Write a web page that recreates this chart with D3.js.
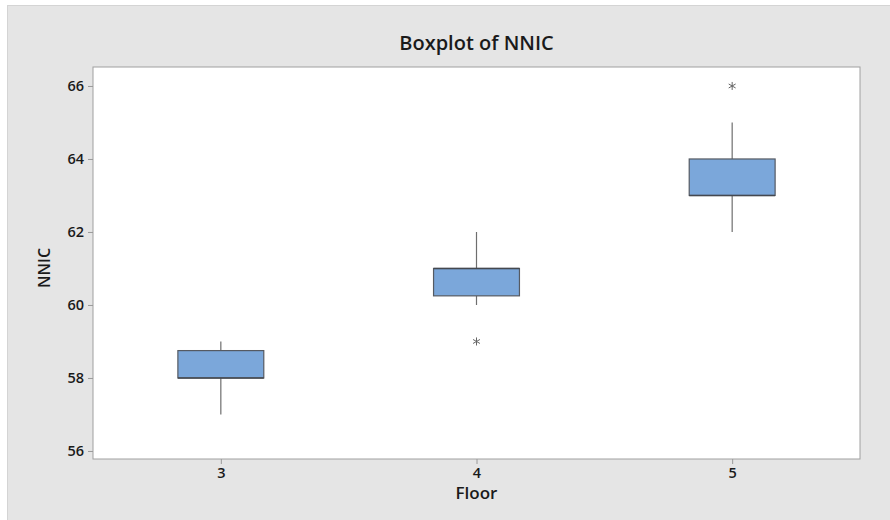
<!DOCTYPE html>
<html><head><meta charset="utf-8">
<script src="https://cdn.jsdelivr.net/npm/d3@7"></script>
<style>body{margin:0;background:#fff}svg{display:block}text{font-family:"Open Sans",sans-serif;fill:#1a1a1a}</style>
</head><body><svg id="c" width="890" height="520"></svg>
<script>
const floors = [3, 4, 5];
const q1 = [58, 60.25, 63];
const median = [58, 61, 63];
const q3 = [58.75, 61, 64];
const whiskerLow = [57, 60, 62];
const whiskerHigh = [59, 62, 65];
const outliers = [[], [59], [66]];
const yTicks = [56, 58, 60, 62, 64, 66];

const svg = d3.select("#c");
svg.append("rect").attr("x",7.5).attr("y",5.5).attr("width",890).attr("height",520)
  .attr("fill","#e5e5e5").attr("stroke","#d4d4d4");

const L=93,R=860,T=67,B=459;
const x = d3.scaleLinear().domain([2.5,5.5]).range([L,R]);
const y = d3.scaleLinear().domain([55.78,66.52]).range([B,T]);

svg.append("rect").attr("x",L).attr("y",T).attr("width",R-L).attr("height",B-T)
  .attr("fill","#fff").attr("stroke","#a0a0a0");

const yAxis = svg.append("g").attr("transform",`translate(${L},0)`)
  .call(d3.axisLeft(y).tickValues(yTicks).tickFormat(d3.format("d")).tickSize(5).tickPadding(4));
const xAxis = svg.append("g").attr("transform",`translate(0,${B})`)
  .call(d3.axisBottom(x).tickValues(floors).tickFormat(d3.format("d")).tickSize(5).tickPadding(4));
[yAxis,xAxis].forEach(a=>{
  a.select(".domain").remove();
  a.selectAll("line").attr("stroke","#9a9a9a");
  a.selectAll("text").style("font-family","'Open Sans',sans-serif").style("font-size","14.5px").style("font-weight","600").attr("fill","#1a1a1a");
});

svg.append("text").attr("x",(L+R)/2).attr("y",50).attr("text-anchor","middle")
  .style("font-size","20px").style("font-weight","600").text("Boxplot of NNIC");
svg.append("text").attr("x",(L+R)/2).attr("y",499).attr("text-anchor","middle")
  .style("font-size","17px").style("font-weight","600").text("Floor");
svg.append("text").attr("transform",`translate(50,${(T+B)/2+5}) rotate(-90)`).attr("text-anchor","middle")
  .style("font-size","16px").style("font-weight","600").text("NNIC");

const bw = 0.336;
const g = svg.append("g");
floors.forEach((f,i)=>{
  g.append("line").attr("x1",x(f)).attr("x2",x(f)).attr("y1",y(whiskerHigh[i])).attr("y2",y(q3[i]))
    .attr("stroke","#6e6e6e").attr("stroke-width",1.2);
  g.append("line").attr("x1",x(f)).attr("x2",x(f)).attr("y1",y(q1[i])).attr("y2",y(whiskerLow[i]))
    .attr("stroke","#6e6e6e").attr("stroke-width",1.2);
  g.append("rect").attr("x",x(f-bw/2)).attr("width",x(f+bw/2)-x(f-bw/2))
    .attr("y",y(q3[i])).attr("height",y(q1[i])-y(q3[i]))
    .attr("fill","#7ba7da").attr("stroke","#555a62").attr("stroke-width",1.2);
  g.append("line").attr("x1",x(f-bw/2)).attr("x2",x(f+bw/2)).attr("y1",y(median[i])).attr("y2",y(median[i]))
    .attr("stroke","#44484f").attr("stroke-width",1.4);
  outliers[i].forEach(o=>{
    g.append("path").attr("transform",`translate(${x(f)},${y(o)})`)
      .attr("d",d3.symbol(d3.symbolAsterisk,45)()).attr("fill","none").attr("stroke","#666").attr("stroke-width",1);
  });
});
</script></body></html>
